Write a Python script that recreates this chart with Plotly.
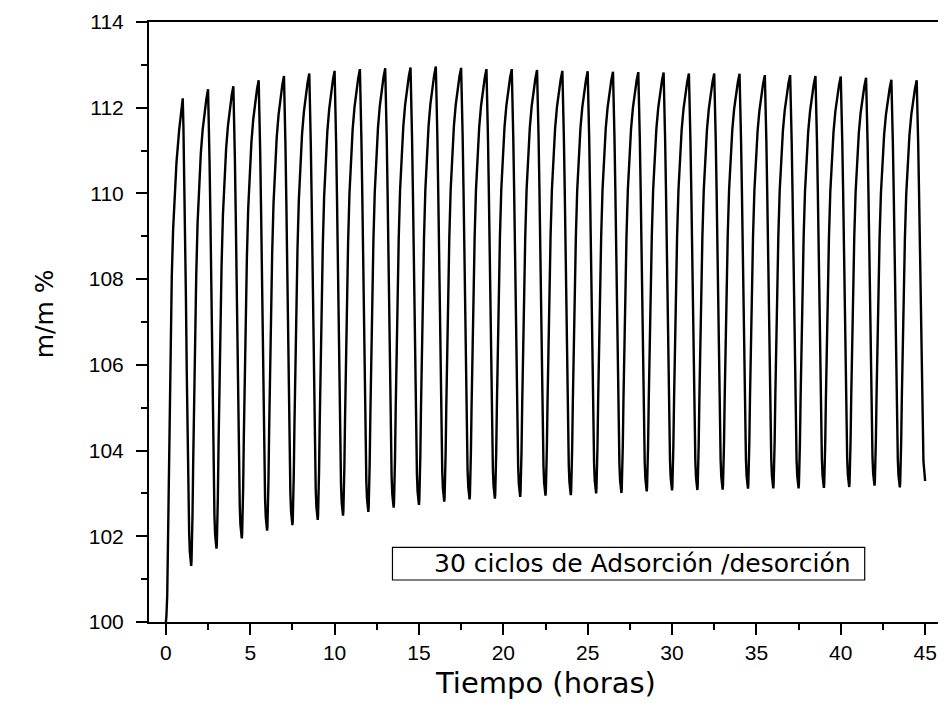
import plotly.graph_objects as go

# ---- data ----
peak_times = [1.0, 2.5, 4.0, 5.5, 7.0, 8.5, 10.0, 11.5, 13.0, 14.5,
              16.0, 17.5, 19.0, 20.5, 22.0, 23.5, 25.0, 26.5, 28.0, 29.5,
              31.0, 32.5, 34.0, 35.5, 37.0, 38.5, 40.0, 41.5, 43.0, 44.5]
peak_values = [112.22, 112.43, 112.50, 112.64, 112.74, 112.80, 112.86, 112.90, 112.92, 112.94,
               112.96, 112.93, 112.90, 112.90, 112.88, 112.86, 112.85, 112.84, 112.83, 112.82,
               112.80, 112.80, 112.79, 112.76, 112.76, 112.74, 112.73, 112.70, 112.65, 112.64]
trough_times = [1.5, 3.0, 4.5, 6.0, 7.5, 9.0, 10.5, 12.0, 13.5, 15.0,
                16.5, 18.0, 19.5, 21.0, 22.5, 24.0, 25.5, 27.0, 28.5, 30.0,
                31.5, 33.0, 34.5, 36.0, 37.5, 39.0, 40.5, 42.0, 43.5]
trough_values = [101.31, 101.71, 101.95, 102.13, 102.26, 102.38, 102.48, 102.57, 102.67, 102.73,
                 102.81, 102.86, 102.88, 102.92, 102.95, 102.96, 103.00, 103.01, 103.05, 103.07,
                 103.08, 103.09, 103.11, 103.12, 103.12, 103.13, 103.15, 103.18, 103.14]
start_time, start_value = 0.0, 100.0
end_time, end_value = 45.0, 103.29

# shape of one cycle (hours, fraction of swing)
first_rise_h = [0.00, 0.03, 0.08, 0.13, 0.18, 0.23, 0.28, 0.35, 0.43, 0.53, 0.63, 0.79, 0.90, 1.00]
first_rise_f = [0.00, 0.01, 0.05, 0.17, 0.30, 0.43, 0.56, 0.66, 0.75, 0.82, 0.878, 0.94, 0.975, 1.00]
rise_h = [0.00, 0.02, 0.05, 0.08, 0.12, 0.17, 0.23, 0.30, 0.38, 0.47, 0.57, 0.68, 0.80, 0.90, 1.00]
rise_f = [0.00, 0.01, 0.04, 0.11, 0.22, 0.35, 0.48, 0.61, 0.72, 0.80, 0.865, 0.915, 0.955, 0.98, 1.00]
fall_h = [0.00, 0.04, 0.09, 0.14, 0.19, 0.24, 0.29, 0.34, 0.38, 0.42, 0.46, 0.50]
fall_f = [1.00, 0.94, 0.84, 0.72, 0.57, 0.41, 0.26, 0.14, 0.07, 0.03, 0.008, 0.00]
last_fall_h = [0.00, 0.04, 0.09, 0.14, 0.19, 0.24, 0.29, 0.34, 0.40, 0.50]
last_fall_f = [1.00, 0.94, 0.84, 0.72, 0.57, 0.41, 0.26, 0.14, 0.05, 0.00]

x_ticks = [0, 5, 10, 15, 20, 25, 30, 35, 40, 45]
y_ticks = [100, 102, 104, 106, 108, 110, 112, 114]
annotation_text = "30 ciclos de Adsorción /desorción"

# ---- assemble the curve from the read values ----
xs, ys = [], []


def add_rise(t0, v0, t1, v1, hs, fs, skip_first=False):
    span = t1 - t0
    pts = list(zip(hs, fs))
    if skip_first:
        pts = pts[1:]
    for h, f in pts:
        xs.append(t0 + h / hs[-1] * span)
        ys.append(v0 + (v1 - v0) * f)


def add_fall(t0, vpeak, t1, vlow, hs, fs):
    span = t1 - t0
    for h, f in zip(hs[1:], fs[1:]):
        xs.append(t0 + h / hs[-1] * span)
        ys.append(vlow + (vpeak - vlow) * f)


add_rise(start_time, start_value, peak_times[0], peak_values[0], first_rise_h, first_rise_f)
for i in range(len(peak_times)):
    if i < len(trough_times):
        add_fall(peak_times[i], peak_values[i], trough_times[i], trough_values[i],
                 fall_h, fall_f)
        add_rise(trough_times[i], trough_values[i], peak_times[i + 1], peak_values[i + 1],
                 rise_h, rise_f, skip_first=True)
    else:
        add_fall(peak_times[i], peak_values[i], end_time, end_value,
                 last_fall_h, last_fall_f)

fig = go.Figure()
fig.add_trace(go.Scatter(x=xs, y=ys, mode="lines",
                         line=dict(color="black", width=2.4), showlegend=False,
                         hoverinfo="skip"))

arial = "Liberation Sans, Arial, sans-serif"
wide = "DejaVu Sans, Verdana, sans-serif"

# the page body adds an 8 px offset, so the figure is sized to fit the window
fig.update_layout(
    width=938, height=699,
    margin=dict(l=141, r=2, t=11.5, b=84.5),
    paper_bgcolor="white", plot_bgcolor="white",
    font=dict(family=arial, color="black"),
    xaxis=dict(range=[-1, 46], tickvals=x_ticks, ticks="outside", ticklen=11,
               tickwidth=2, tickcolor="black", showline=True, linewidth=2,
               linecolor="black", mirror=True, showgrid=False, zeroline=False,
               tickfont=dict(size=21, family=arial, color="black"),
               minor=dict(dtick=2.5, tick0=0, ticks="outside", ticklen=6,
                          tickwidth=2, tickcolor="black", showgrid=False)),
    yaxis=dict(range=[100, 114], tickvals=y_ticks, ticks="outside", ticklen=11,
               tickwidth=2, tickcolor="black", showline=True, linewidth=2,
               linecolor="black", mirror=True, showgrid=False, zeroline=False,
               ticklabelstandoff=8,
               tickfont=dict(size=21, family=arial, color="black"),
               minor=dict(dtick=1, tick0=100, ticks="outside", ticklen=6,
                          tickwidth=2, tickcolor="black", showgrid=False)),
)

# axis titles
fig.add_annotation(text="Tiempo (horas)", xref="paper", yref="paper",
                   x=0.5, y=-(684 - 622.5) / 603, xanchor="center", yanchor="middle",
                   showarrow=False, font=dict(size=29, family=wide, color="black"))
fig.add_annotation(text="m/m %", xref="paper", yref="paper",
                   x=(44 - 149) / 795, y=(622.5 - 313) / 603, xanchor="center", yanchor="middle",
                   textangle=-90, showarrow=False,
                   font=dict(size=25, family=wide, color="black"))

# boxed label
fig.add_shape(type="rect", xref="x", yref="y", x0=13.43, x1=41.42, y0=100.98, y1=101.74,
              line=dict(color="black", width=1.2), fillcolor="rgba(0,0,0,0)")
fig.add_annotation(text=annotation_text, xref="x", yref="y", x=15.79, y=101.36,
                   xanchor="left", yanchor="middle", showarrow=False,
                   font=dict(size=25, family=wide, color="black"))

fig.write_html("out.html")
